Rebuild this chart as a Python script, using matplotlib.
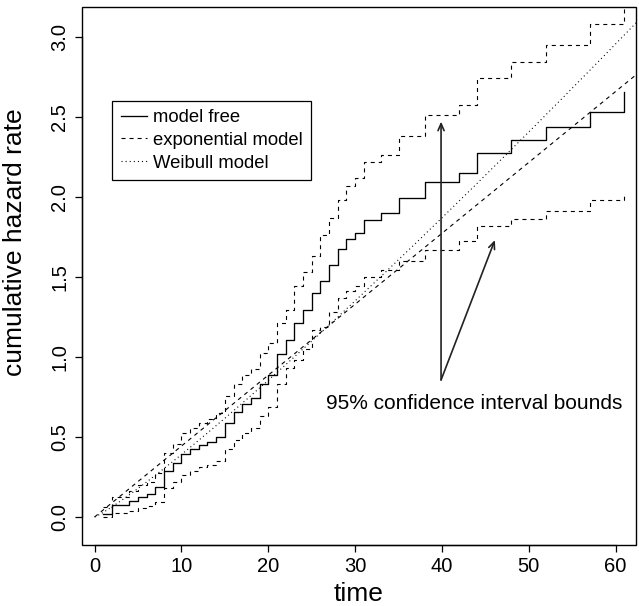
import matplotlib
matplotlib.use("Agg")
import matplotlib.pyplot as plt
from matplotlib.patches import Rectangle
from matplotlib.lines import Line2D
import numpy as np

plt.rcParams['font.family'] = ['Liberation Sans', 'DejaVu Sans']
plt.rcParams['lines.scale_dashes'] = False

# Event times and Nelson-Aalen style cumulative hazard with 95% bounds
times = [1, 2, 4, 5, 6, 7, 8, 9, 10, 11, 12, 13, 14, 15, 16, 17, 18, 19, 20,
         21, 22, 23, 24, 25, 26, 27, 28, 29, 30, 31, 33, 35, 38, 42, 44, 48,
         52, 57, 61]
model_free = [0.02, 0.075, 0.10, 0.127, 0.142, 0.186, 0.29, 0.336, 0.394,
              0.423, 0.45, 0.47, 0.498, 0.589, 0.654, 0.704, 0.742, 0.828,
              0.888, 1.019, 1.106, 1.21, 1.294, 1.398, 1.475, 1.575, 1.673,
              1.738, 1.777, 1.856, 1.898, 1.99, 2.092, 2.152, 2.277, 2.352,
              2.434, 2.529, 2.652]
upper = [0.06, 0.125, 0.16, 0.197, 0.217, 0.276, 0.40, 0.456, 0.524, 0.558,
         0.59, 0.615, 0.648, 0.754, 0.829, 0.884, 0.927, 1.023, 1.09, 1.21,
         1.29, 1.44, 1.53, 1.63, 1.76, 1.87, 1.98, 2.07, 2.117, 2.215, 2.26,
         2.377, 2.51, 2.575, 2.74, 2.84, 2.946, 3.08, 3.27]
lower = [0.0, 0.025, 0.04, 0.057, 0.067, 0.096, 0.18, 0.216, 0.264, 0.288,
         0.31, 0.325, 0.348, 0.424, 0.479, 0.524, 0.557, 0.633, 0.69, 0.83,
         0.93, 0.98, 1.05, 1.17, 1.19, 1.28, 1.365, 1.41, 1.44, 1.50, 1.54,
         1.60, 1.67, 1.725, 1.82, 1.86, 1.91, 1.98, 2.027]

# Fitted parametric models
exp_rate = 0.0443
weib_shape = 1.13
weib_scale = 23.0

x_ticks = [0, 10, 20, 30, 40, 50, 60]
y_ticks = [0.0, 0.5, 1.0, 1.5, 2.0, 2.5, 3.0]

W, H = 639, 606
fig = plt.figure(figsize=(W / 100, H / 100), dpi=100)
L, R, T, B = 82, 636, 7, 545
ax = fig.add_axes([L / W, 1 - B / H, (R - L) / W, (B - T) / H])
ax.set_xlim(-1.45, 62.35)
ax.set_ylim(-0.175, 3.186)

dash = (0, (2.9, 2.9))
dot = (0, (0.75, 2.2))
lw = 0.8

ax.plot(times, model_free, drawstyle='steps-post', color='black', lw=0.95)
ax.plot(times, upper, drawstyle='steps-post', color='black', lw=lw, linestyle=dash)
ax.plot(times, lower, drawstyle='steps-post', color='black', lw=lw, linestyle=dash)

t = np.linspace(0, 66, 500)
ax.plot(t, exp_rate * t, color='black', lw=lw, linestyle=dash)
ax.plot(t, (t / weib_scale) ** weib_shape, color='black', lw=lw, linestyle=dot)

# Legend
handles = [Line2D([], [], color='black', lw=0.95),
           Line2D([], [], color='black', lw=lw, linestyle=dash),
           Line2D([], [], color='black', lw=lw, linestyle=dot)]
leg = ax.legend(handles, ['model free', 'exponential model', 'Weibull model'],
                loc='upper left', bbox_to_anchor=(112.3 / W, 1 - 100.7 / H),
                bbox_transform=fig.transFigure, fontsize=13.3, frameon=True,
                fancybox=False, edgecolor='black', framealpha=1,
                handlelength=1.45, handletextpad=0.3, labelspacing=0.32,
                borderpad=0.45, borderaxespad=0)
leg.get_frame().set_linewidth(0.9)

# Annotation arrows
arrow_from = (39.9, 0.856)
arrow_heads = [(39.9, 2.47), (46.1, 1.73)]
for head in arrow_heads:
    ax.annotate('', xy=head, xytext=arrow_from,
                arrowprops=dict(arrowstyle='->,head_length=0.5,head_width=0.22',
                                color='#222222', lw=1.2, shrinkA=0, shrinkB=0))
ax.text(43.75, 0.712, '95% confidence interval bounds', fontsize=15,
        ha='center', va='center')

# Box and R-style axes
for s in ax.spines.values():
    s.set_visible(False)
ax.add_patch(Rectangle((0, 0), 1, 1, transform=ax.transAxes, fill=False,
                       lw=1.0, edgecolor='black', clip_on=False, zorder=5))
for side in ('left', 'bottom'):
    sp = ax.spines[side]
    sp.set_visible(True)
    sp.set_position(('outward', 0))
    sp.set_linewidth(0.9)
ax.spines['bottom'].set_bounds(x_ticks[0], x_ticks[-1])
ax.spines['left'].set_bounds(y_ticks[0], y_ticks[-1])

ax.set_xticks(x_ticks)
ax.set_xticklabels([str(v) for v in x_ticks])
ax.set_yticks(y_ticks)
ax.set_yticklabels([f'{v:.1f}' for v in y_ticks], rotation=90, va='center')
ax.tick_params(axis='both', direction='out', length=5, width=0.9,
               labelsize=14.5, pad=4)

fig.text((L + R) / 2 / W, 1 - 594 / H, 'time', fontsize=19, ha='center', va='center')
fig.text(15 / W, 1 - 242 / H, 'cumulative hazard rate', fontsize=19,
         ha='center', va='center', rotation=90)

fig.savefig('out.png', dpi=100)
